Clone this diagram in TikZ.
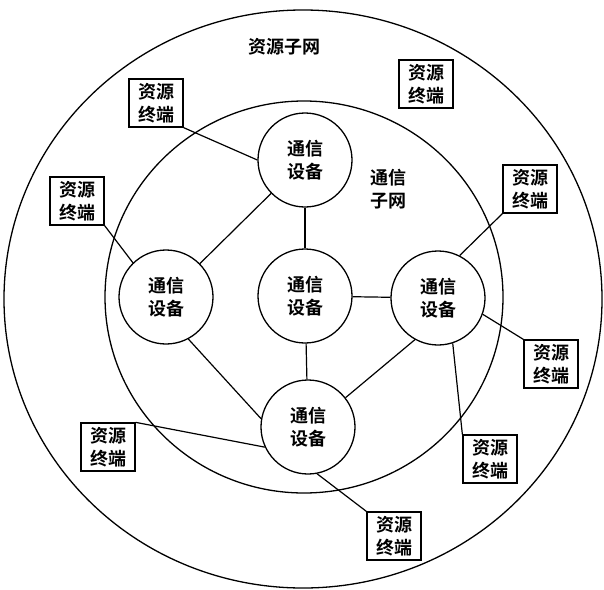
\documentclass[tikz,border=0pt]{standalone}
\usepackage{fontspec}
\newfontfamily\cjk{Noto Sans CJK SC}[BoldFont={Noto Sans CJK SC Bold}]
\begin{document}
\begin{tikzpicture}[x=1pt,y=-1pt,
  every node/.style={font=\cjk\bfseries\fontsize{18}{23}\selectfont},
  dev/.style={draw,line width=1.3pt,circle,minimum size=94pt,inner sep=0pt,align=center},
  term/.style={draw,line width=1.3pt,rectangle,minimum width=54pt,minimum height=48pt,inner sep=0pt,align=center},
  link/.style={line width=1.2pt},
  lbl/.style={align=center,inner sep=0pt}]
\useasboundingbox (0,0) rectangle (604,589);
\draw[line width=1.3pt] (303,299) ellipse [x radius=299, y radius=289];
\draw[line width=1.3pt] (304,297) ellipse [x radius=199, y radius=196];
\node[lbl] (res) at (284,47) {资源子网};
\node[lbl] (com) at (388,189) {通信\\子网};
\node[dev] (top) at (305,160) {通信\\设备};
\node[dev] (left) at (166,297) {通信\\设备};
\node[dev] (mid) at (305,296) {通信\\设备};
\node[dev] (right) at (438,298) {通信\\设备};
\node[dev] (bot) at (308,427) {通信\\设备};
\node[term] (tA) at (156,103) {资源\\终端};
\node[term] (tB) at (426,84) {资源\\终端};
\node[term] (tC) at (77,201) {资源\\终端};
\node[term] (tD) at (530,189) {资源\\终端};
\node[term] (tE) at (551,364) {资源\\终端};
\node[term] (tF) at (490,459) {资源\\终端};
\node[term] (tG) at (108,447) {资源\\终端};
\node[term] (tH) at (394,536) {资源\\终端};
\draw[link] (tA.south east) -- (top.180);
\draw[link] (tC.south east) -- (left.134);
\draw[link] (tD.south west) -- (right.63);
\draw[link] (right.-20) -- (tE.north west);
\draw[link] (right.-72) -- (tF.north west);
\draw[link] (tG.north east) -- (bot.205);
\draw[link] (bot.-79) -- (tH.north west);
\draw[link] (top) -- (mid);
\draw[link] (mid) -- (right);
\draw[link] (mid) -- (bot);
\draw[link] (top) -- (left);
\draw[link] (left.-62) -- (bot.170);
\draw[link] (right.241) -- (bot.38);
\end{tikzpicture}
\end{document}
